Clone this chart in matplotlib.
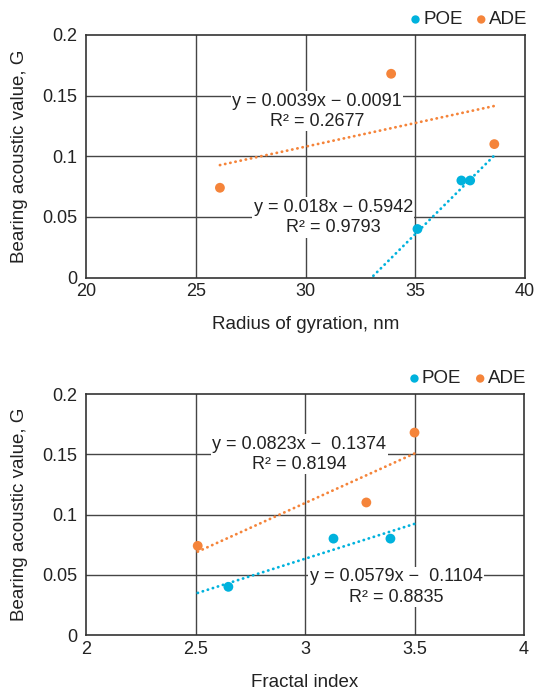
import numpy as np
import matplotlib
matplotlib.use("Agg")
import matplotlib.pyplot as plt
from matplotlib.ticker import FuncFormatter

plt.rcParams['font.family'] = ['Liberation Sans', 'DejaVu Sans']
plt.rcParams['text.color'] = '#222222'
plt.rcParams['axes.labelcolor'] = '#222222'
plt.rcParams['xtick.color'] = '#222222'
plt.rcParams['ytick.color'] = '#222222'

# radius of gyration panel
rg_poe_x = [35.1, 37.1, 37.5]
rg_poe_y = [0.040, 0.080, 0.080]
rg_ade_x = [26.1, 33.9, 38.6]
rg_ade_y = [0.074, 0.168, 0.110]
rg_poe_fit = (0.018, -0.5942, 0.9793)
rg_ade_fit = (0.0039, -0.0091, 0.2677)

# fractal index panel
fi_poe_x = [2.65, 3.13, 3.39]
fi_poe_y = [0.040, 0.080, 0.080]
fi_ade_x = [2.51, 3.28, 3.50]
fi_ade_y = [0.074, 0.110, 0.168]
fi_poe_fit = (0.0579, -0.1104, 0.8835)
fi_ade_fit = (0.0823, -0.1374, 0.8194)

rg_ticks = [20, 25, 30, 35, 40]
fi_ticks = [2, 2.5, 3, 3.5, 4]
y_ticks = [0, 0.05, 0.1, 0.15, 0.2]

POE_COLOR = '#00b2dd'
ADE_COLOR = '#f5843a'
GRID_COLOR = '#454545'


def fmt_num(v, pos=None):
    return f"{v:g}"


def eq_text(fit, gap=" "):
    m, b, r2 = fit
    sign = "\u2212" if b < 0 else "+"
    return f"y = {m:g}x {sign}{gap}{abs(b):.4f}\nR\u00b2 = {r2:.4f}"


def draw_panel(ax, poe_x, poe_y, ade_x, ade_y, poe_fit, ade_fit,
               xticks, xlabel, poe_lab_pos, ade_lab_pos, gap):
    ax.set_xlim(xticks[0], xticks[-1])
    ax.set_ylim(y_ticks[0], y_ticks[-1])
    ax.set_xticks(xticks)
    ax.set_yticks(y_ticks)
    ax.xaxis.set_major_formatter(FuncFormatter(fmt_num))
    ax.yaxis.set_major_formatter(FuncFormatter(fmt_num))
    ax.tick_params(length=0, labelsize=13, pad=6)
    ax.tick_params(axis='x', pad=4)
    for s in ax.spines.values():
        s.set_color('#333333')
        s.set_linewidth(1.2)
    for xv in xticks[1:-1]:
        ax.axvline(xv, color=GRID_COLOR, lw=1.0, zorder=0)
    for yv in y_ticks[1:-1]:
        ax.axhline(yv, color=GRID_COLOR, lw=1.0, zorder=0)

    # equation labels sit on white boxes that cover the grid
    box = dict(facecolor='white', edgecolor='none', pad=1.0)
    ax.text(*poe_lab_pos, eq_text(poe_fit, gap), ha='center', va='center',
            fontsize=13, linespacing=1.25, bbox=box, zorder=1)
    ax.text(*ade_lab_pos, eq_text(ade_fit, gap), ha='center', va='center',
            fontsize=13, linespacing=1.25, bbox=box, zorder=1)

    # trendlines span the full x range of both series
    all_x = poe_x + ade_x
    xs = np.array([min(all_x), max(all_x)])
    for fit, col in ((poe_fit, POE_COLOR), (ade_fit, ADE_COLOR)):
        ax.plot(xs, fit[0] * xs + fit[1], color=col, lw=2.0,
                linestyle=(0, (0.1, 1.8)), dash_capstyle='round', zorder=2)

    ax.scatter(poe_x, poe_y, s=50, color=POE_COLOR, zorder=4, label='POE',
               edgecolors='none')
    ax.scatter(ade_x, ade_y, s=50, color=ADE_COLOR, zorder=4, label='ADE',
               edgecolors='none')

    ax.legend(loc='lower right', bbox_to_anchor=(1.02, 1.0), ncol=2,
              frameon=False, fontsize=13.5, handlelength=0.4,
              handletextpad=0.2, columnspacing=0.8, borderpad=0,
              borderaxespad=0.35, markerscale=0.85)
    ax.set_xlabel(xlabel, fontsize=13.5)
    ax.set_ylabel("Bearing acoustic value, G", fontsize=13.5)
    ax.xaxis.set_label_coords(0.5, -0.195)
    ax.xaxis.label.set_va('center')
    ax.yaxis.set_label_coords(-0.152, 0.5)
    ax.yaxis.label.set_va('center')


fig = plt.figure(figsize=(5.39, 6.91), dpi=100)
ax1 = fig.add_axes([0.1596, 0.5984, 0.8145, 0.351])
ax2 = fig.add_axes([0.1596, 0.0810, 0.8126, 0.3488])

draw_panel(ax1, rg_poe_x, rg_poe_y, rg_ade_x, rg_ade_y, rg_poe_fit, rg_ade_fit,
           rg_ticks, "Radius of gyration, nm", (31.27, 0.0495), (30.52, 0.137), " ")
draw_panel(ax2, fi_poe_x, fi_poe_y, fi_ade_x, fi_ade_y, fi_poe_fit, fi_ade_fit,
           fi_ticks, "Fractal index", (3.416, 0.0398), (2.973, 0.150), "  ")

fig.savefig("out.png", dpi=100, facecolor='white')
